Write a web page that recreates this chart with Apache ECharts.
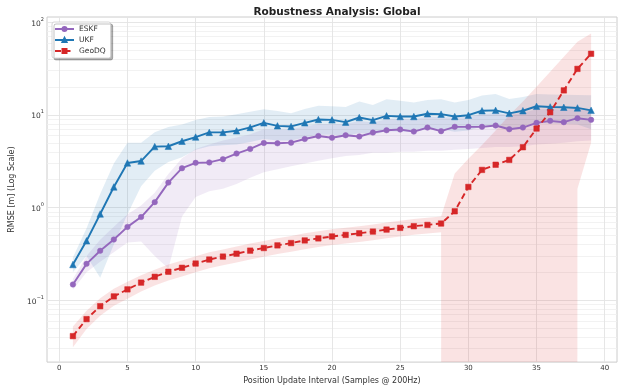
<!DOCTYPE html>
<html><head><meta charset="utf-8">
<script src="https://cdn.jsdelivr.net/npm/echarts@6/dist/echarts.min.js"></script>
<style>html,body{margin:0;padding:0;background:#fff}#c{width:618px;height:390px}</style>
</head><body><div id="c"></div>
<script>
const xs = [1,2,3,4,5,6,7,8,9,10,11,12,13,14,15,16,17,18,19,20,21,22,23,24,25,26,27,28,29,30,31,32,33,34,35,36,37,38,39];
const eskfMean = [0.148,0.247,0.342,0.452,0.619,0.791,1.145,1.86,2.66,3.04,3.07,3.33,3.83,4.30,4.98,4.94,5.02,5.50,5.92,5.67,6.04,5.85,6.45,6.84,6.96,6.61,7.31,6.68,7.44,7.44,7.44,7.69,7.01,7.31,8.21,8.63,8.35,9.22,8.85];
const eskfLow  = [0.13,0.20,0.26,0.33,0.42,0.43,0.30,0.22,0.80,1.30,1.50,1.60,1.80,2.10,2.40,2.60,2.80,3.00,3.20,3.40,3.60,3.70,3.90,3.90,4.00,4.00,4.10,4.10,4.20,4.30,4.40,4.50,4.50,4.60,4.80,4.90,5.00,5.20,5.30];
const eskfHigh = [0.17,0.30,0.45,0.62,0.85,1.05,1.45,2.30,3.40,4.30,4.80,5.30,5.70,6.20,7.00,6.90,7.00,7.50,8.00,8.00,8.00,8.60,8.30,9.00,9.10,8.90,9.60,9.40,9.40,9.50,10.2,10.5,10.0,10.5,11.5,11.6,11.4,11.8,11.5];
const ukfMean = [0.243,0.438,0.853,1.67,3.03,3.18,4.55,4.59,5.20,5.77,6.48,6.48,6.74,7.33,8.22,7.62,7.51,8.22,8.93,8.85,8.35,9.38,8.78,9.78,9.61,9.61,10.3,10.2,9.61,9.93,11.1,11.2,10.4,11.1,12.4,12.2,12.1,11.9,11.2];
const ukfLow  = [0.20,0.30,0.175,0.40,0.85,1.70,2.50,3.10,3.50,4.20,4.60,4.70,4.80,5.10,5.50,5.30,5.30,5.70,6.10,6.10,5.90,6.40,6.10,6.70,6.60,6.60,7.00,7.00,6.60,6.80,7.50,7.60,7.10,7.50,8.20,8.10,8.00,7.90,7.00];
const ukfHigh = [0.29,0.60,1.40,3.00,5.00,5.00,6.50,7.40,7.90,8.80,9.50,9.60,10.2,10.8,11.5,11.0,10.4,11.6,12.6,12.4,12.2,14.0,12.8,14.8,14.2,13.6,14.5,14.8,13.6,14.5,16.2,16.8,14.9,15.6,16.8,16.6,16.5,16.4,16.3];
const geoMean = [0.041,0.0626,0.0863,0.110,0.131,0.155,0.179,0.203,0.224,0.249,0.275,0.296,0.318,0.343,0.366,0.391,0.414,0.442,0.465,0.488,0.507,0.528,0.551,0.579,0.604,0.630,0.650,0.673,0.912,1.67,2.55,2.90,3.27,4.48,7.13,10.7,18.4,31.4,45.7];
const geoLow  = [0.031,0.049,0.068,0.087,0.104,0.124,0.144,0.163,0.180,0.200,0.221,0.238,0.256,0.276,0.295,0.315,0.334,0.356,0.375,0.394,0.409,0.426,0.445,0.467,0.488,0.509,0.525,0.543,0,0,0,0,0,0,0,0,0,1.6,5.0];
const geoHigh = [0.052,0.077,0.105,0.133,0.158,0.186,0.214,0.243,0.268,0.298,0.329,0.354,0.380,0.410,0.437,0.467,0.494,0.528,0.555,0.582,0.605,0.630,0.657,0.690,0.720,0.751,0.775,0.800,2.33,3.36,4.74,6.8,9.9,14.0,20.2,29.2,42.4,61.6,75.5];
const xTicks = [0,5,10,15,20,25,30,35,40];
const yTicks = [0.1,1,10,100];
const yMinor = [0.03,0.04,0.05,0.06,0.07,0.08,0.09,0.2,0.3,0.4,0.5,0.6,0.7,0.8,0.9,2,3,4,5,6,7,8,9,20,30,40,50,60,70,80,90];
const names = ['ESKF','UKF','GeoDQ'];
const colors = ['#9467bd','#1f77b4','#d62728'];
const bandColors = ['rgba(148,103,189,0.13)','rgba(31,119,180,0.13)','rgba(214,39,40,0.13)'];

const FONT = 'DejaVu Sans';
const chart = echarts.init(document.getElementById('c'), null, {renderer:'canvas'});

function band(low, high, fill) {
  return {
    type:'custom', silent:true, clip:true, z:1, animation:false,
    data:[[1,1]],
    renderItem:function(params, api){
      const pts=[];
      for(let i=0;i<xs.length;i++) pts.push(api.coord([xs[i], high[i]]));
      for(let i=xs.length-1;i>=0;i--) pts.push(api.coord([xs[i], low[i]>0?low[i]:1e-300]));
      const cs=params.coordSys;
      return {type:'polygon', shape:{points:pts}, style:{fill:fill, stroke:null},
        clipPath:{type:'rect', shape:{x:cs.x,y:cs.y,width:cs.width,height:cs.height}}};
    }
  };
}
function line(name, mean, color, symbol, size, dashed) {
  return {
    type:'line', name:name, z:3, animation:false,
    data: xs.map((x,i)=>[x, mean[i]]),
    symbol:symbol, symbolSize:size, showSymbol:true,
    lineStyle:{color:color, width:1.9, type: dashed ? [6,3.5] : 'solid'},
    itemStyle:{color:color, borderColor:color, borderWidth:0.5, opacity:1},
    emphasis:{disabled:true}
  };
}
const gridLines = [];
yMinor.forEach(v=>gridLines.push({yAxis:v, lineStyle:{color:'#efefef', width:0.8, type:'solid'}}));
yTicks.forEach(v=>gridLines.push({yAxis:v, lineStyle:{color:'#e3e3e3', width:0.9, type:'solid'}}));
xTicks.forEach(v=>gridLines.push({xAxis:v, lineStyle:{color:'#e3e3e3', width:0.9, type:'solid'}}));

chart.setOption({
  backgroundColor:'#fff',
  animation:false,
  title:{text:'Robustness Analysis: Global', left:332, top:2, textAlign:'center',
    textStyle:{fontFamily:FONT, fontSize:10.5, fontWeight:'bold', color:'#222'}},
  legend:{data:names, orient:'vertical', left:52, top:22, itemWidth:19, itemHeight:5, itemGap:3,
    padding:[3,5,3,2], backgroundColor:'#fff', borderColor:'#cccccc', borderWidth:0.8, borderRadius:2,
    shadowColor:'rgba(0,0,0,0.3)', shadowOffsetX:2, shadowOffsetY:2, shadowBlur:0,
    textStyle:{fontFamily:FONT, fontSize:7.5, color:'#333'}},
  grid:{left:47, right:1, top:17, bottom:25, show:true, borderColor:'#cccccc', borderWidth:1, backgroundColor:'transparent'},
  xAxis:{type:'value', min:-0.9, max:40.9,
    name:'Position Update Interval (Samples @ 200Hz)', nameLocation:'middle', nameGap:11,
    nameTextStyle:{fontFamily:FONT, fontSize:8, color:'#333'},
    axisLine:{show:false}, axisTick:{show:false}, splitLine:{show:false},
    axisLabel:{customValues:xTicks, margin:3, fontFamily:FONT, fontSize:7, color:'#333'}},
  yAxis:{type:'log', logBase:10, min:0.0215, max:114,
    name:'RMSE [m] (Log Scale)', nameLocation:'middle', nameGap:24,
    nameTextStyle:{fontFamily:FONT, fontSize:8, color:'#333'},
    axisLine:{show:false}, axisTick:{show:false}, splitLine:{show:false}, minorSplitLine:{show:false},
    axisLabel:{customValues:yTicks, margin:3, fontFamily:FONT, color:'#333',
      formatter:function(v){const e=Math.round(Math.log10(v));return '{b|10}{s|'+(e<0?'\u2212'+(-e):e)+'}';},
      rich:{b:{fontFamily:FONT,fontSize:7.5,color:'#333',lineHeight:11,verticalAlign:'bottom'},
            s:{fontFamily:FONT,fontSize:5,color:'#333',lineHeight:11,verticalAlign:'top'}}}},
  series:[
    {type:'line', data:[], silent:true, z:0, animation:false,
      markLine:{silent:true, z:0, symbol:['none','none'], label:{show:false}, animation:false, data:gridLines}},
    band(eskfLow, eskfHigh, bandColors[0]),
    band(ukfLow, ukfHigh, bandColors[1]),
    band(geoLow, geoHigh, bandColors[2]),
    line('ESKF', eskfMean, colors[0], 'circle', 5.5, false),
    line('UKF', ukfMean, colors[1], 'triangle', 6.5, false),
    line('GeoDQ', geoMean, colors[2], 'rect', 5.5, true)
  ]
});
</script></body></html>
